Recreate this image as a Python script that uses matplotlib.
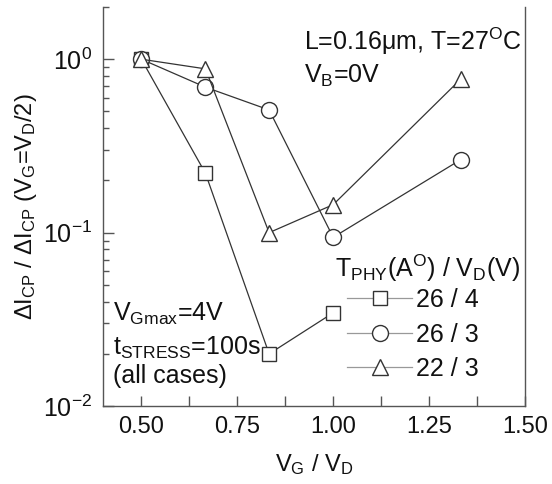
import matplotlib
matplotlib.use('Agg')
import matplotlib.pyplot as plt
from matplotlib.ticker import MultipleLocator, LogLocator, NullFormatter

plt.rcParams['font.family'] = ['Liberation Sans', 'DejaVu Sans']
plt.rcParams['mathtext.fontset'] = 'custom'
plt.rcParams['mathtext.rm'] = 'Liberation Sans'
plt.rcParams['mathtext.it'] = 'Liberation Sans'

# normalized charge-pumping current vs gate/drain bias ratio
vg_vd_sq = [0.5, 0.667, 0.833, 1.0]
ratio_sq = [1.0, 0.22, 0.020, 0.0345]        # 26 A / 4 V

vg_vd_ci = [0.5, 0.667, 0.833, 1.0, 1.333]
ratio_ci = [1.0, 0.69, 0.51, 0.094, 0.264]   # 26 A / 3 V

vg_vd_tr = [0.5, 0.667, 0.833, 1.0, 1.333]
ratio_tr = [1.0, 0.88, 0.10, 0.145, 0.77]    # 22 A / 3 V

labels = ['26 / 4', '26 / 3', '22 / 3']
xticks = [0.50, 0.75, 1.00, 1.25, 1.50]

fig = plt.figure(figsize=(5.52, 4.84), dpi=100)
ax = fig.add_axes([0.1866, 0.161, 0.7645, 0.8245])

lc = '#333333'
tc = '#111111'
mk = dict(markerfacecolor='white', markeredgecolor=lc, markeredgewidth=1.0, color=lc, lw=0.9)
ax.plot(vg_vd_sq, ratio_sq, marker='s', markersize=10, label=labels[0], **mk)
ax.plot(vg_vd_ci, ratio_ci, marker='o', markersize=11.5, label=labels[1], **mk)
ax.plot(vg_vd_tr, ratio_tr, marker='^', markersize=12, label=labels[2], **mk)

ax.set_yscale('log')
ax.set_xlim(0.4, 1.5)
ax.set_ylim(0.01, 2.0)

ax.set_xticks(xticks)
ax.set_xticklabels(['%.2f' % v for v in xticks])
ax.xaxis.set_minor_locator(MultipleLocator(0.125))
ax.yaxis.set_minor_locator(LogLocator(base=10, subs=range(2, 10)))
ax.yaxis.set_minor_formatter(NullFormatter())

ax.tick_params(axis='both', which='both', direction='in', colors='#555555',
               labelcolor=tc, width=1)
ax.tick_params(axis='x', which='both', length=7, pad=7, labelsize=17)
ax.tick_params(axis='y', which='major', length=8, pad=8, labelsize=18)
ax.tick_params(axis='y', which='minor', length=4)
ax.tick_params(top=False, right=False, which='both')

ax.spines['top'].set_visible(False)
for s in ['left', 'right', 'bottom']:
    ax.spines[s].set_color('#555555')
    ax.spines[s].set_linewidth(1.0)

ax.set_xlabel(r'V$_{\rm G}$ / V$_{\rm D}$', fontsize=17, labelpad=10, color=tc)
ax.set_ylabel(r'$\Delta$I$_{\rm CP}$ / $\Delta$I$_{\rm CP}$ (V$_{\rm G}$=V$_{\rm D}$/2)',
              fontsize=17, labelpad=3, color=tc)

# bias / geometry notes
ax.text(0.925, 1.13, r'L=0.16$\mu$m, T=27$^{\rm O}$C', fontsize=18, color=tc,
        ha='left', va='baseline')
ax.text(0.925, 0.727, r'V$_{\rm B}$=0V', fontsize=18, color=tc,
        ha='left', va='baseline')

ax.text(0.426, 0.031, r'V$_{\rm Gmax}$=4V', fontsize=18, color=tc, va='baseline')
ax.text(0.426, 0.0197, r't$_{\rm STRESS}$=100s', fontsize=18, color=tc, va='baseline')
ax.text(0.426, 0.0136, '(all cases)', fontsize=18, color=tc, va='baseline')

# legend with a separately placed heading
fig.text(335 / 552, 1 - 277 / 484, r'T$_{\rm PHY}$(A$^{\rm O}$) / V$_{\rm D}$(V)',
         fontsize=18, color=tc, ha='left', va='baseline')
leg = ax.legend(loc='upper left', bbox_to_anchor=(347 / 552, 1 - 288 / 484),
                bbox_transform=fig.transFigure, frameon=False, fontsize=18,
                handlelength=2.6, handletextpad=0.15, labelspacing=0.42,
                borderpad=0, borderaxespad=0)
for h in leg.legend_handles:
    h.set_color('#999999')
    h.set_markeredgecolor(lc)
for t in leg.get_texts():
    t.set_color(tc)

fig.savefig('out.png', dpi=100)
